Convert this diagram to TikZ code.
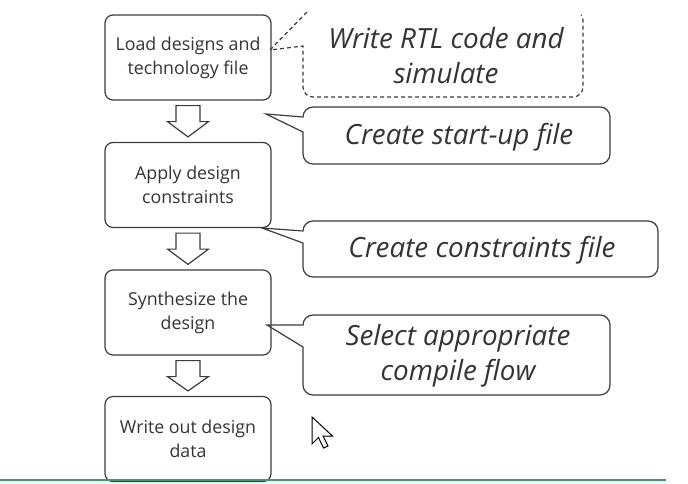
\documentclass[tikz,border=0pt]{standalone}
\usepackage{fontspec}
\setmainfont{Open Sans}
\usetikzlibrary{calc}
\definecolor{linec}{HTML}{3C3C3C}
\definecolor{textc}{HTML}{333333}
\definecolor{greenc}{HTML}{36A06A}
\tikzset{
 flowbox/.style={draw=linec, line width=1.2pt, rounded corners=8pt, minimum width=166pt, minimum height=85pt, inner sep=0pt, align=center, text=textc, font=\fontsize{17.8}{24}\selectfont},
 calltext/.style={align=center, text=textc, font=\fontsize{27.8}{35}\selectfont\itshape, inner sep=0pt},
 callline/.style={draw=linec, line width=1.2pt, line join=miter},
 hollow/.style={draw=linec, line width=1.2pt, fill=white, line join=miter},
}
\newcommand\hollowarrow[2]{%
 \draw[hollow] ($(#1.south)+(-12,5)$) -- ($(#1.south)+(12,5)$) -- ($(#1.south)+(12,21)$) -- ($(#1.south)+(20.5,21)$) -- ($(#2.north)+(0,-5)$) -- ($(#1.south)+(-20.5,21)$) -- ($(#1.south)+(-12,21)$) -- cycle;}
% L, R, T, B, tip, y1, y2
\newcommand\calloutbox[7]{%
 \draw[callline] (#1,#6) -- (#5) -- (#1,#7) -- (#1,#4-10) arc[start angle=180,end angle=90,radius=10] -- (#2-10,#4) arc[start angle=90,end angle=0,radius=10] -- (#2,#3+10) arc[start angle=0,end angle=-90,radius=10] -- (#1+10,#3) arc[start angle=270,end angle=180,radius=10] -- cycle;}
\begin{document}
\begin{tikzpicture}[x=1pt,y=-1pt]
\useasboundingbox (0,0) rectangle (688,483);
% flow boxes
\node[flowbox] (b1) at (188,57.5) {Load designs and\\technology file};
\node[flowbox] (b2) at (188,185) {Apply design\\constraints};
\node[flowbox] (b3) at (188,312.5) {Synthesize the\\design};
\node[flowbox] (b4) at (188,439) {Write out design\\data};
\hollowarrow{b1}{b2}
\hollowarrow{b2}{b3}
\hollowarrow{b3}{b4}
% callout tips
\coordinate (t1) at (270,50);
\coordinate (t2) at (266,114);
\coordinate (t3) at (262,228);
\coordinate (t4) at (267,325);
% callout 1 (dashed, open at top)
\draw[callline, dash pattern=on 4pt off 3pt] (307,12) -- (t1) -- (303,46) -- (303,87) arc[start angle=180,end angle=90,radius=10] -- (573,97) arc[start angle=90,end angle=0,radius=10] -- (583,20) arc[start angle=0,end angle=-40,radius=8];
\node[calltext] (c1) at (446,55.5) {Write RTL code and\\simulate};
% callout 2
\calloutbox{303}{610}{107}{164}{t2}{117}{132}
\node[calltext] (c2) at (459,137) {Create start-up file};
% callout 3
\calloutbox{303}{658}{221}{277}{t3}{231}{243}
\node[calltext] (c3) at (482,250) {Create constraints file};
% callout 4
\calloutbox{303}{610}{315}{395}{t4}{325}{347}
\node[calltext] (c4) at (458,356) {Select appropriate\\compile flow};
% mouse cursor
\coordinate (m) at (312,417);
\draw[draw=black, line width=1pt, fill=white, line join=miter] (m) -- ++(0,27) -- ++(6.5,-6.5) -- ++(5,10.5) -- ++(4.5,-2) -- ++(-5,-10) -- ++(9.5,0) -- cycle;
% green rule
\coordinate (g1) at (0,480);
\coordinate (g2) at (666,480);
\draw[greenc, line width=2.5pt] (g1) -- (g2);
\end{tikzpicture}
\end{document}
